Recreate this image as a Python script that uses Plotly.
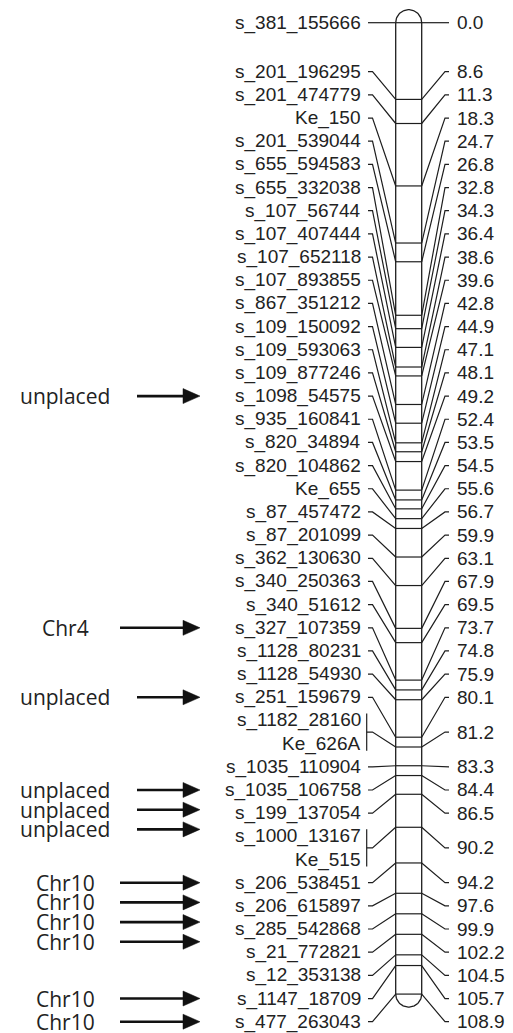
import numpy as np
import plotly.graph_objects as go

# ---------------- data ----------------
markers = [
    "s_381_155666", "s_201_196295", "s_201_474779", "Ke_150", "s_201_539044",
    "s_655_594583", "s_655_332038", "s_107_56744", "s_107_407444", "s_107_652118",
    "s_107_893855", "s_867_351212", "s_109_150092", "s_109_593063", "s_109_877246",
    "s_1098_54575", "s_935_160841", "s_820_34894", "s_820_104862", "Ke_655",
    "s_87_457472", "s_87_201099", "s_362_130630", "s_340_250363", "s_340_51612",
    "s_327_107359", "s_1128_80231", "s_1128_54930", "s_251_159679", "s_1182_28160",
    "Ke_626A", "s_1035_110904", "s_1035_106758", "s_199_137054", "s_1000_13167",
    "Ke_515", "s_206_538451", "s_206_615897", "s_285_542868", "s_21_772821",
    "s_12_353138", "s_1147_18709", "s_477_263043",
]
positions_cm = [
    0.0, 8.6, 11.3, 18.3, 24.7,
    26.8, 32.8, 34.3, 36.4, 38.6,
    39.6, 42.8, 44.9, 47.1, 48.1,
    49.2, 52.4, 53.5, 54.5, 55.6,
    56.7, 59.9, 63.1, 67.9, 69.5,
    73.7, 74.8, 75.9, 80.1, 81.2,
    81.2, 83.3, 84.4, 86.5, 90.2,
    90.2, 94.2, 97.6, 99.9, 102.2,
    104.5, 105.7, 108.9,
]
origin_labels = ["unplaced", "Chr4", "unplaced", "unplaced", "unplaced", "unplaced",
                 "Chr10", "Chr10", "Chr10", "Chr10", "Chr10", "Chr10"]
origin_targets = ["s_1098_54575", "s_327_107359", "s_251_159679", "s_1035_106758",
                  "s_199_137054", "s_1000_13167", "s_206_538451", "s_206_615897",
                  "s_285_542868", "s_21_772821", "s_1147_18709", "s_477_263043"]

# ---------------- layout constants (pixels) ----------------
W, H = 513, 1033
Y_CM0, PX_PER_CM = 22.7, 8.92
BAR_L, BAR_R = 395.7, 421.7
LABEL_TOP, LABEL_BOTTOM = 71.7, 1021.7
LEFT_TEXT_X, LEFT_TICK0, LEFT_TICK1 = 362, 368, 372.5
RIGHT_BEND, RIGHT_TICK1, RIGHT_TEXT_X = 445, 449, 456
BRACKET_X = 366.7
LINE_COLOR = "#1e1e1e"
TEXT_COLOR = "#222222"
LABEL_FONT = dict(family="Liberation Sans, Arial, sans-serif", size=19, color=TEXT_COLOR)
ORIGIN_FONT = dict(family="Open Sans, sans-serif", size=21, color=TEXT_COLOR)
ORIGIN_CENTER_X = 65
ARROW_TAIL = {"unplaced": 137, "Chr4": 120, "Chr10": 120}
ARROW_TIP, ARROW_HEAD_LEN, ARROW_HEAD_HALF = 200, 17, 7.5
STACK_SPACING = 19.7


def cm_to_y(cm):
    return Y_CM0 + cm * PX_PER_CM


n = len(markers)
row_step = (LABEL_BOTTOM - LABEL_TOP) / (n - 2)
label_y = [cm_to_y(positions_cm[0])] + [LABEL_TOP + (i - 1) * row_step for i in range(1, n)]

# group markers sharing the same position
groups = []
for i, p in enumerate(positions_cm):
    if groups and groups[-1]["cm"] == p:
        groups[-1]["idx"].append(i)
    else:
        groups.append({"cm": p, "idx": [i]})

fig = go.Figure()

# ---------- chromosome outline ----------
r = (BAR_R - BAR_L) / 2
cx = (BAR_L + BAR_R) / 2
y_top = cm_to_y(positions_cm[0])
y_bot = cm_to_y(positions_cm[-1])
t_top = np.linspace(np.pi, 0, 40)
t_bot = np.linspace(0, -np.pi, 40)
ox = list(cx + r * np.cos(t_top)) + list(cx + r * np.cos(t_bot)) + [BAR_L]
oy = list(y_top - r * np.sin(t_top)) + list(y_bot - r * np.sin(t_bot)) + [y_top]
fig.add_trace(go.Scatter(x=ox, y=oy, mode="lines", line=dict(color=LINE_COLOR, width=1.3),
                         hoverinfo="skip", showlegend=False))

# ---------- bands and connectors ----------
lx, ly = [], []
for g in groups:
    by = cm_to_y(g["cm"])
    lx += [BAR_L, BAR_R, None]
    ly += [by, by, None]
    ys = [label_y[i] for i in g["idx"]]
    mid = sum(ys) / len(ys)
    if len(ys) == 1:
        lx += [LEFT_TICK0, LEFT_TICK1, BAR_L, None]
        ly += [mid, mid, by, None]
    else:
        lx += [BRACKET_X, BRACKET_X, None, BRACKET_X, LEFT_TICK1, BAR_L, None]
        ly += [ys[0] - 7, ys[-1] + 7, None, mid, mid, by, None]
    lx += [BAR_R, RIGHT_BEND, RIGHT_TICK1, None]
    ly += [by, mid, mid, None]
fig.add_trace(go.Scatter(x=lx, y=ly, mode="lines", line=dict(color=LINE_COLOR, width=1.2),
                         hoverinfo="skip", showlegend=False))

# ---------- texts ----------
for i, name in enumerate(markers):
    fig.add_annotation(x=LEFT_TEXT_X, y=label_y[i], text=name, showarrow=False,
                       xanchor="right", yanchor="middle", font=LABEL_FONT, borderpad=0)
for g in groups:
    ys = [label_y[i] for i in g["idx"]]
    fig.add_annotation(x=RIGHT_TEXT_X, y=sum(ys) / len(ys), text=f"{g['cm']:.1f}",
                       showarrow=False, xanchor="left", yanchor="middle",
                       font=LABEL_FONT, borderpad=0)

# ---------- origin annotations with arrows ----------
tgt_rows = [markers.index(t) for t in origin_targets]
arrow_y = []
k = 0
while k < len(tgt_rows):
    j = k
    while j + 1 < len(tgt_rows) and tgt_rows[j + 1] == tgt_rows[j] + 1:
        j += 1
    run = tgt_rows[k:j + 1]
    if len(run) >= 3:
        arrow_y += [label_y[run[0]] + m * STACK_SPACING for m in range(len(run))]
    else:
        arrow_y += [label_y[rw] for rw in run]
    k = j + 1

ax_, ay_ = [], []
hx, hy = [], []
for lab, y in zip(origin_labels, arrow_y):
    tail = ARROW_TAIL[lab]
    ax_ += [tail, ARROW_TIP - ARROW_HEAD_LEN + 2, None]
    ay_ += [y, y, None]
    hx += [ARROW_TIP - ARROW_HEAD_LEN, ARROW_TIP, ARROW_TIP - ARROW_HEAD_LEN,
           ARROW_TIP - ARROW_HEAD_LEN, None]
    hy += [y - ARROW_HEAD_HALF, y, y + ARROW_HEAD_HALF, y - ARROW_HEAD_HALF, None]
    fig.add_annotation(x=ORIGIN_CENTER_X, y=y, text=lab, showarrow=False,
                       xanchor="center", yanchor="middle", font=ORIGIN_FONT, borderpad=0)
fig.add_trace(go.Scatter(x=ax_, y=ay_, mode="lines", line=dict(color="#111111", width=2.6),
                         hoverinfo="skip", showlegend=False))
fig.add_trace(go.Scatter(x=hx, y=hy, mode="lines", fill="toself", fillcolor="#111111",
                         line=dict(color="#111111", width=0.5),
                         hoverinfo="skip", showlegend=False))

fig.update_layout(
    width=W, height=H, margin=dict(l=0, r=0, t=0, b=0),
    paper_bgcolor="white", plot_bgcolor="white", showlegend=False,
    xaxis=dict(range=[0, W], visible=False, fixedrange=True),
    yaxis=dict(range=[H, 0], visible=False, fixedrange=True),
)
fig.write_html("out.html", config={"displayModeBar": False},
               post_script="document.body.style.margin='0';document.body.style.overflow='hidden';")
